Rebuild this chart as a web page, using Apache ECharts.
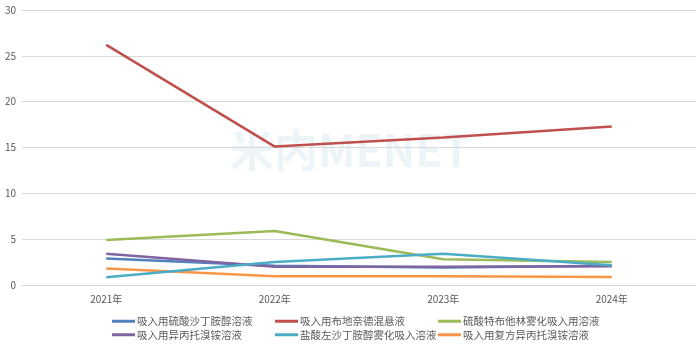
<!DOCTYPE html>
<html><head><meta charset="utf-8">
<script src="https://cdn.jsdelivr.net/npm/echarts@6/dist/echarts.min.js"></script>
<style>html,body{margin:0;padding:0;background:#fff}#c{width:700px;height:349px}</style>
</head><body><div id="c"></div>
<script>
const categories = ['2021年','2022年','2023年','2024年'];
const names = ['吸入用硫酸沙丁胺醇溶液','吸入用布地奈德混悬液','硫酸特布他林雾化吸入用溶液','吸入用异丙托溴铵溶液','盐酸左沙丁胺醇雾化吸入溶液','吸入用复方异丙托溴铵溶液'];
const salbutamol = [2.9, 2.1, 1.9, 2.1];
const budesonide = [26.2, 15.1, 16.1, 17.3];
const terbutaline = [4.9, 5.9, 2.8, 2.5];
const ipratropium = [3.4, 2.0, 2.0, 2.05];
const levosalbutamol = [0.85, 2.5, 3.4, 2.15];
const compoundIpra = [1.8, 0.95, 0.95, 0.87];
const yTicks = [0, 5, 10, 15, 20, 25, 30];

const colors = ['#4F81BD','#C0504D','#9BBB59','#8064A2','#4BACC6','#F79646'];
const values = [salbutamol, budesonide, terbutaline, ipratropium, levosalbutamol, compoundIpra];
const order = [1,2,0,3,5,4];
const chart = echarts.init(document.getElementById('c'));
const font = '"Noto Sans CJK SC", sans-serif';
const legendBase = {orient:'vertical', top:316, padding:0, itemWidth:23, itemHeight:3, itemGap:3,
  icon:'rect', textStyle:{fontSize:10.5, color:'#595959', fontFamily:font, padding:[0,0,0,-3]}};
chart.setOption({
  animation:false,
  color: colors,
  grid:{left:22, right:4, top:10, bottom:64},
  graphic:[{type:'text', left:'center', top:128, style:{text:'米内MENET', fontSize:44, fontWeight:'bold', fill:'rgba(180,210,225,0.25)', fontFamily:font}}],
  legend:[
    Object.assign({}, legendBase, {left:112, data:[names[0], names[3]]}),
    Object.assign({}, legendBase, {left:275, data:[names[1], names[4]]}),
    Object.assign({}, legendBase, {left:438, data:[names[2], names[5]]})
  ],
  xAxis:{type:'category', data:categories, boundaryGap:true,
    axisLine:{show:false}, axisTick:{show:false},
    axisLabel:{fontSize:10, color:'#595959', fontFamily:font, margin:9}},
  yAxis:{type:'value', min:yTicks[0], max:yTicks[yTicks.length-1], interval:5,
    axisLabel:{fontSize:10, color:'#595959', fontFamily:font, margin:6},
    splitLine:{lineStyle:{color:'#D9D9D9', width:1}}},
  series: order.map(i => ({name:names[i], type:'line', data:values[i], showSymbol:false,
    lineStyle:{width:2.5, color:colors[i]}, itemStyle:{color:colors[i]}}))
});
</script></body></html>
